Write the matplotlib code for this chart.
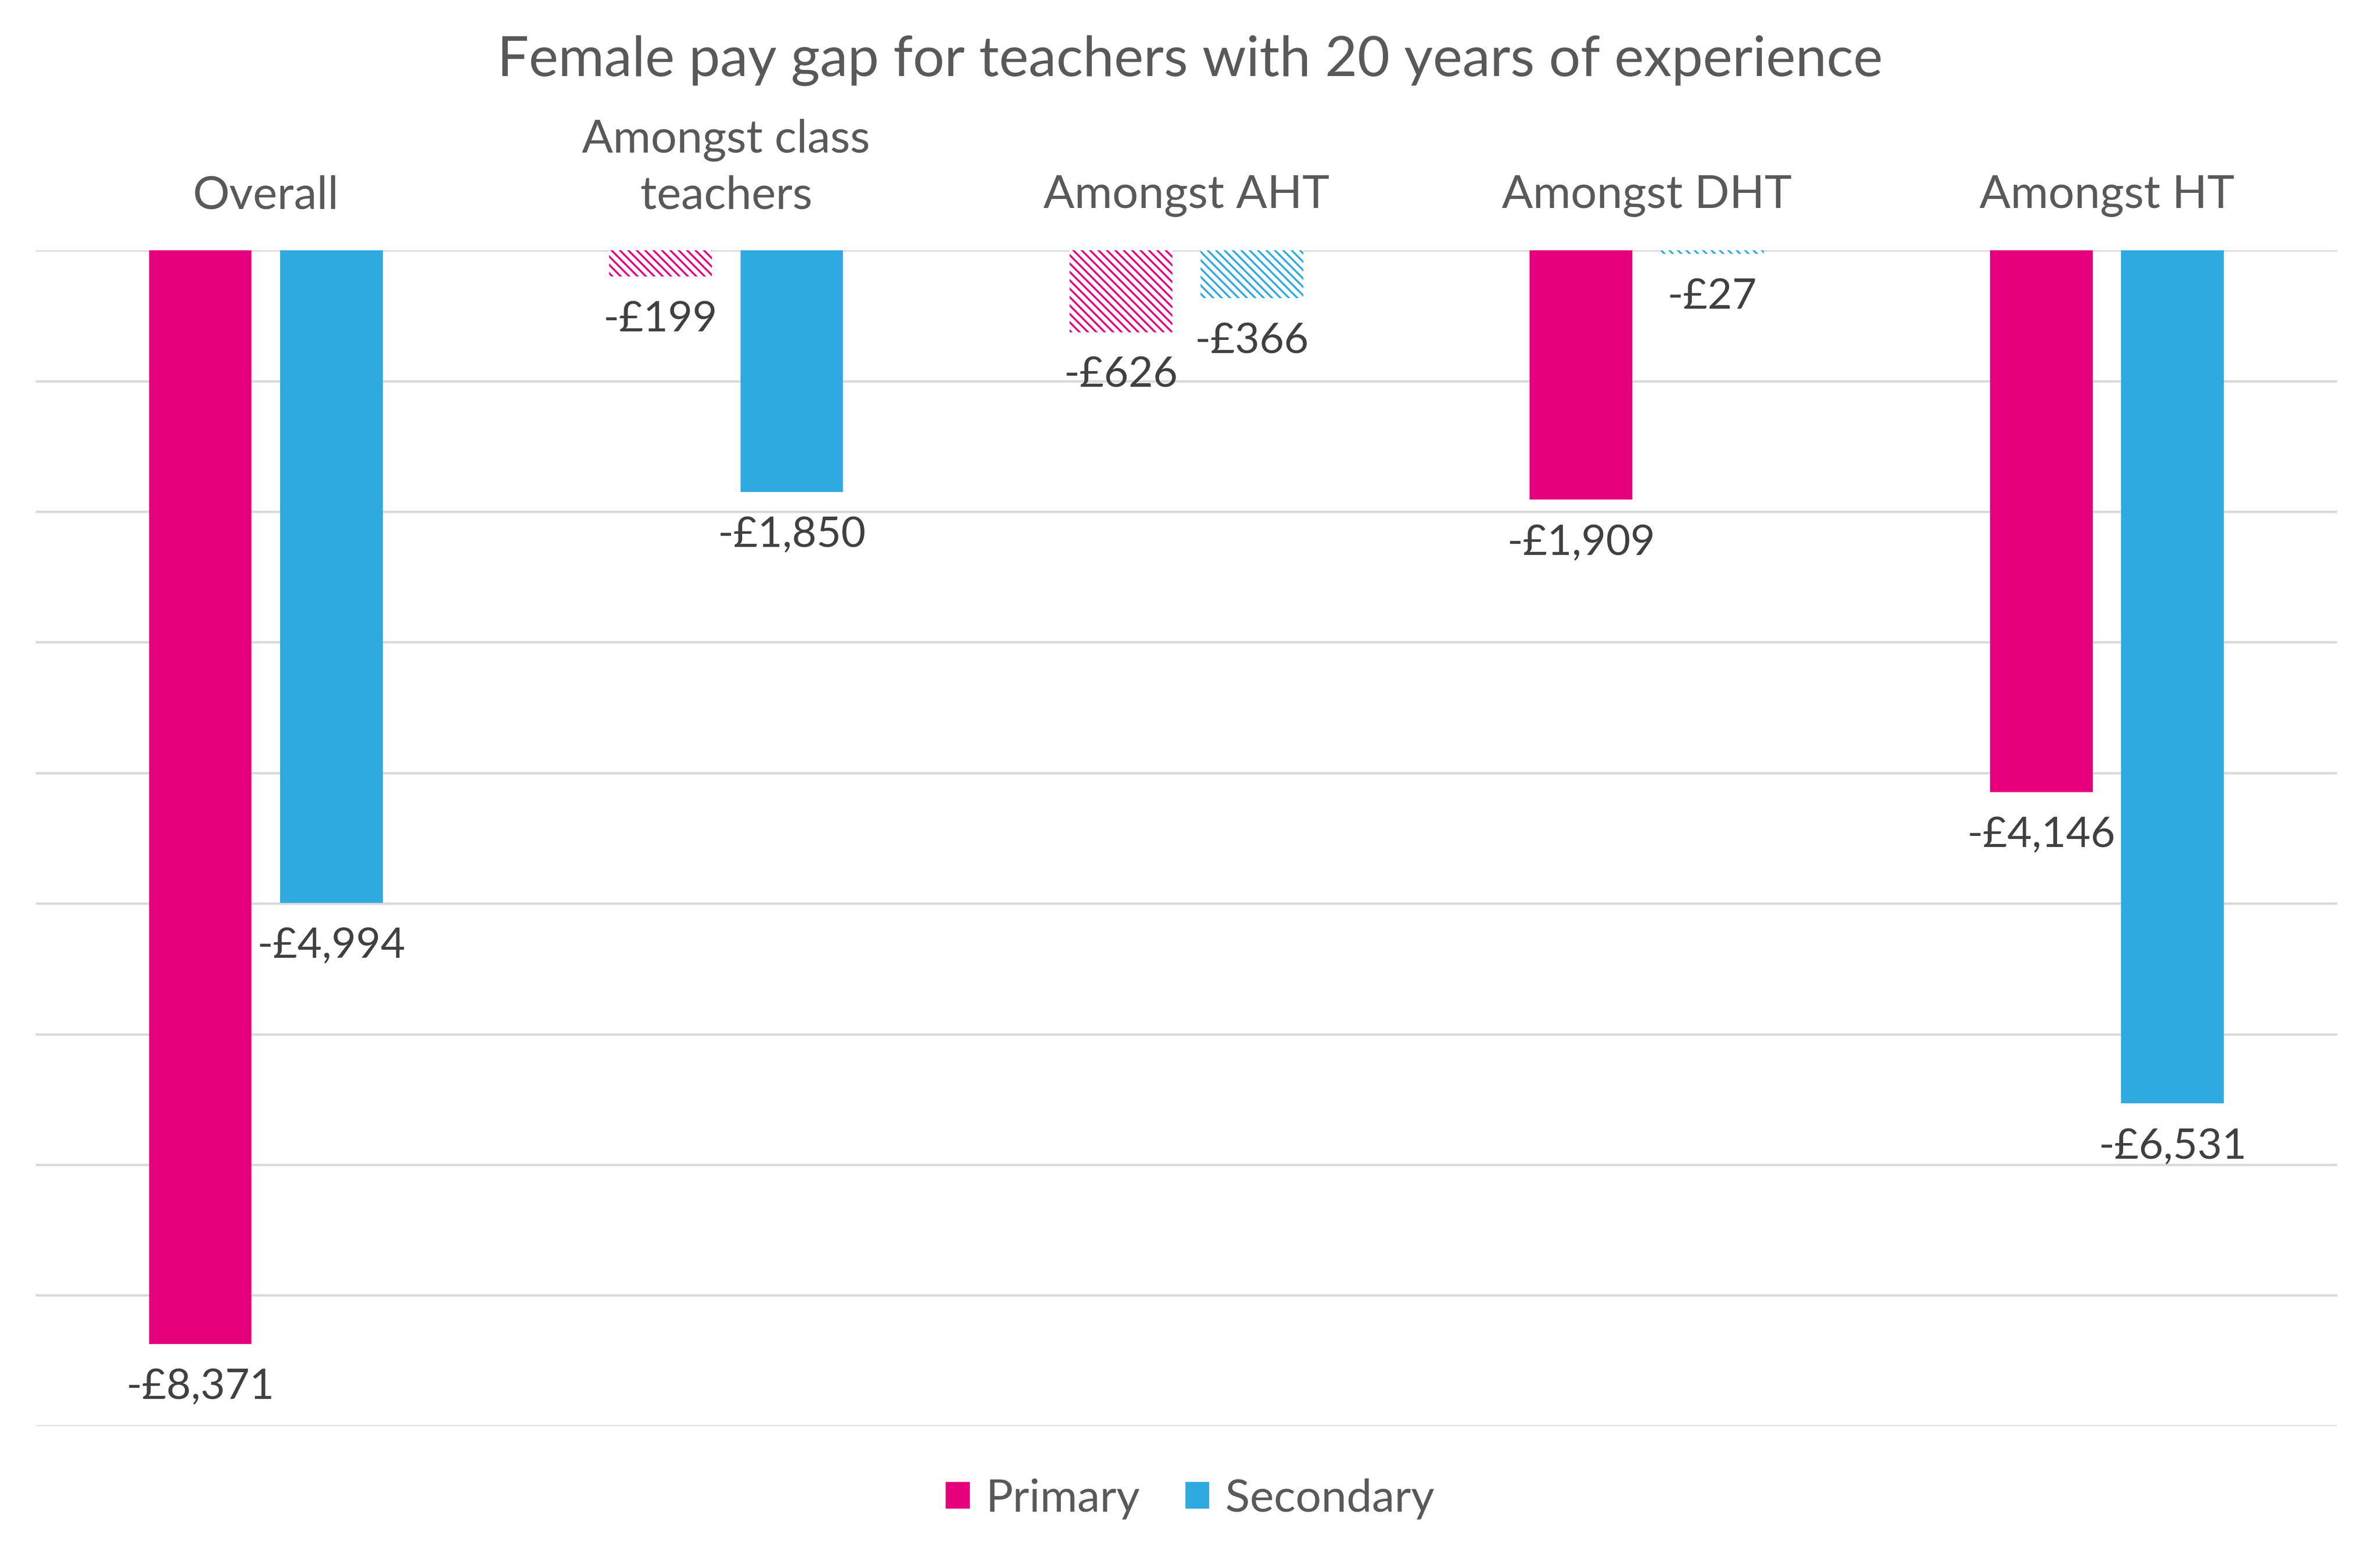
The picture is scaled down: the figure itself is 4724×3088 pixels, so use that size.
import matplotlib
matplotlib.use("Agg")
import matplotlib.pyplot as plt
from matplotlib.patches import Patch
import numpy as np

plt.rcParams['font.family'] = ['Lato', 'DejaVu Sans']
plt.rcParams['hatch.linewidth'] = 0.9

categories = ["Overall", "Amongst class\nteachers", "Amongst AHT", "Amongst DHT", "Amongst HT"]
series_names = ["Primary", "Secondary"]
primary = [-8371, -199, -626, -1909, -4146]
secondary = [-4994, -1850, -366, -27, -6531]
# which bars are drawn hatched (not significant)
primary_hatched = [False, True, True, False, False]
secondary_hatched = [False, False, True, True, False]
yticks = list(range(-9000, 1, 1000))

colors = ["#E6007E", "#2EAAE1"]
text_grey = "#595959"
label_grey = "#404040"

fig = plt.figure(figsize=(4724/300, 3088/300), dpi=300)
ax = fig.add_axes([0.015, 0.083, 0.967, 0.756])

x = np.arange(len(categories))
bw = 0.223
off = 0.1425

for vals, hatched, col, sgn in [(primary, primary_hatched, colors[0], -1),
                                (secondary, secondary_hatched, colors[1], 1)]:
    for xi, v, h in zip(x, vals, hatched):
        if h:
            ax.bar(xi + sgn*off, v, width=bw, facecolor="white", edgecolor=col,
                   hatch="\\\\\\\\\\\\", linewidth=0, zorder=3)
        else:
            ax.bar(xi + sgn*off, v, width=bw, color=col, linewidth=0, zorder=3)
        ax.annotate(f"-£{abs(v):,}", (xi + sgn*off, v), xytext=(0, -11.5),
                    textcoords="offset points", ha="center", va="top",
                    fontsize=20.2, color=label_grey, zorder=4)

ax.set_xlim(-0.5, len(categories) - 0.5)
ax.set_ylim(yticks[0], yticks[-1])
ax.set_yticks(yticks)
ax.yaxis.grid(True, color="#d9d9d9", linewidth=1.1, zorder=0)
ax.set_axisbelow(True)
ax.tick_params(left=False, bottom=False, labelleft=False, labelbottom=False)
for s in ax.spines.values():
    s.set_visible(False)

for xi, c in zip(x, categories):
    ax.annotate(c, (xi, 0), xytext=(0, 16), textcoords="offset points",
                ha="center", va="bottom", fontsize=21.9, color=text_grey,
                linespacing=1.4)

fig.text(0.5, 0.951, "Female pay gap for teachers with 20 years of experience",
         ha="center", va="baseline", fontsize=26.6, color=text_grey)

handles = [Patch(facecolor=colors[0], edgecolor="none"),
           Patch(facecolor=colors[1], edgecolor="none")]
fig.legend(handles, series_names, loc="center", bbox_to_anchor=(0.5, 0.036),
           ncol=2, frameon=False, fontsize=21.6, labelcolor=text_grey,
           handlelength=0.53, handleheight=0.53, handletextpad=0.35,
           columnspacing=1.0)

fig.savefig("out.png", dpi=300, facecolor="white")
